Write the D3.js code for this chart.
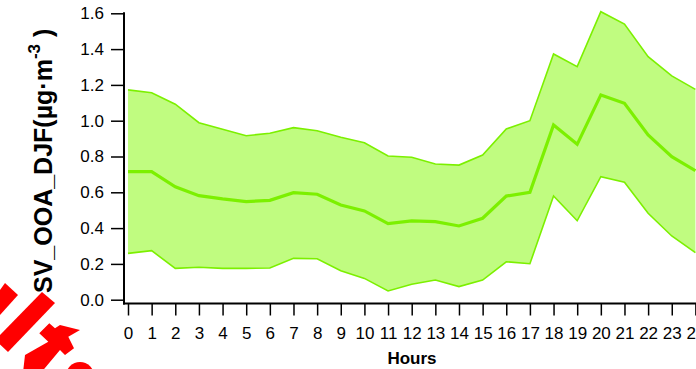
<!DOCTYPE html>
<html><head><meta charset="utf-8">
<script src="https://cdn.jsdelivr.net/npm/d3@7/dist/d3.min.js"></script>
<style>html,body{margin:0;padding:0;background:#fff;overflow:hidden}</style>
</head><body>
<svg id="c" width="696" height="369"></svg>
<script>
const hours = d3.range(0, 25);
const meanVals = [0.715,0.715,0.631,0.581,0.563,0.548,0.555,0.598,0.589,0.529,0.496,0.425,0.44,0.436,0.412,0.455,0.579,0.60,0.976,0.868,1.144,1.097,0.92,0.799,0.721];
const upperVals = [1.172,1.156,1.092,0.989,0.952,0.916,0.930,0.961,0.944,0.907,0.877,0.803,0.796,0.758,0.752,0.808,0.954,1.0,1.373,1.302,1.609,1.540,1.358,1.250,1.175];
const lowerVals = [0.259,0.274,0.175,0.181,0.175,0.175,0.177,0.231,0.229,0.162,0.119,0.049,0.086,0.110,0.073,0.110,0.212,0.201,0.579,0.441,0.687,0.656,0.483,0.356,0.263];
const yTicks = [0,0.2,0.4,0.6,0.8,1.0,1.2,1.4,1.6];
const xTicks = d3.range(0, 25);

const svg = d3.select('#c');
const x = d3.scaleLinear().domain([0,24]).range([128,695.4]);
const y = d3.scaleLinear().domain([0,1.6]).range([299.7,13.3]);
const font = '"Liberation Sans", Arial, sans-serif';

// watermark-like red shapes
const red = '#ff0000';
[
 [[5,283],[18,295],[0,315],[0,290]],
 [[42,292],[55,303],[8,352],[-5,340]],
 [[39.3,333.3],[49.3,323.3],[55,328.3],[60,325],[80,330],[68.3,336.7],[74,348.3],[65,355],[60,350],[43.3,370],[23.3,370],[25,355],[48.3,341.7]]
].forEach(p => svg.append('path').attr('d', d3.line()(p)+'Z').attr('fill', red));
svg.append('circle').attr('cx',80).attr('cy',376).attr('r',14).attr('fill',red);

const data = hours.map((h,i)=>({h, m:meanVals[i], u:upperVals[i], l:lowerVals[i]}));
const fillC = '#c0fc80', lineC = '#7cf000';
svg.append('path').datum(data)
  .attr('d', d3.area().x(d=>x(d.h)).y0(d=>y(d.l)).y1(d=>y(d.u)))
  .attr('fill', fillC);
['u','l'].forEach(k => svg.append('path').datum(data)
  .attr('d', d3.line().x(d=>x(d.h)).y(d=>y(d[k])))
  .attr('fill','none').attr('stroke',lineC).attr('stroke-width',1.6));
svg.append('path').datum(data)
  .attr('d', d3.line().x(d=>x(d.h)).y(d=>y(d.m)))
  .attr('fill','none').attr('stroke',lineC).attr('stroke-width',3.2);

// axes
const yAxis = svg.append('g').attr('transform','translate(124,0)')
  .call(d3.axisLeft(y).tickValues(yTicks).tickFormat(d3.format('.1f')).tickSize(13).tickPadding(7));
const xAxis = svg.append('g').attr('transform','translate(0,303.5)')
  .call(d3.axisBottom(x).tickValues(xTicks).tickFormat(d3.format('d')).tickSize(12).tickPadding(11));
[yAxis,xAxis].forEach(g=>{
  g.select('.domain').remove();
  g.selectAll('line').attr('stroke','#000').attr('stroke-width',1.5);
  g.selectAll('text').attr('fill','#000').style('font-family',font).style('font-size','17px');
});
svg.append('line').attr('x1',124).attr('x2',124).attr('y1',y(1.6)-1).attr('y2',304.5).attr('stroke','#000').attr('stroke-width',2);
svg.append('line').attr('x1',123).attr('x2',696).attr('y1',303.5).attr('y2',303.5).attr('stroke','#000').attr('stroke-width',2);

svg.append('text').attr('x',412).attr('y',364).attr('text-anchor','middle')
  .style('font-family',font).style('font-size','17px').style('font-weight','bold')
  .text('Hours');

const yt = svg.append('text').attr('transform','translate(52,293) rotate(-90)')
  .style('font-family',font).style('font-size','25px').style('font-weight','bold');
yt.append('tspan').text('SV_OOA_DJF(µg·m');
yt.append('tspan').attr('dy',-12).style('font-size','17px').text('-3');
yt.append('tspan').attr('dy',12).text(' )');
</script>
</body></html>
